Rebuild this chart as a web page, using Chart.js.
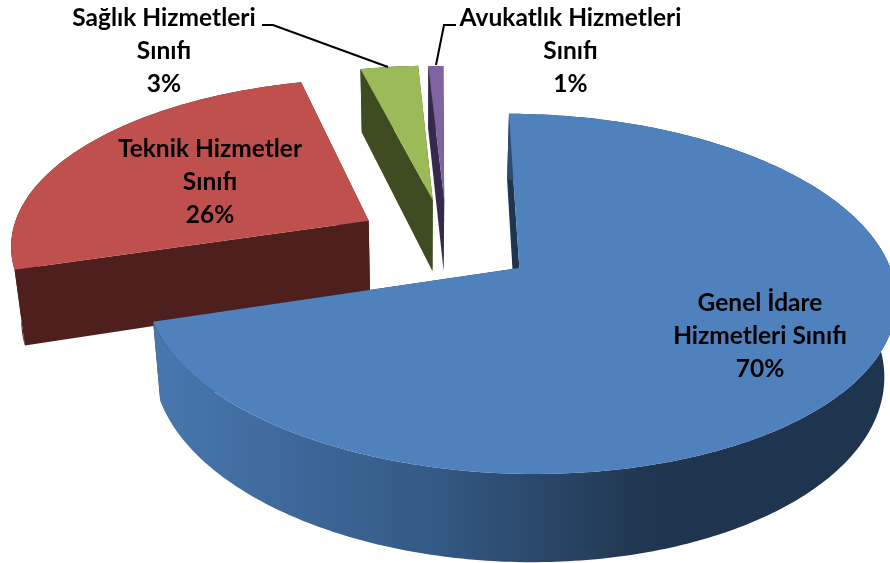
<!DOCTYPE html>
<html><head><meta charset="utf-8">
<style>html,body{margin:0;padding:0;background:#fff;overflow:hidden}canvas{display:block}</style>
<script src="https://cdn.jsdelivr.net/npm/chart.js@4/dist/chart.umd.min.js"></script>
</head><body>
<canvas id="c" width="890" height="563"></canvas>
<script>
// ---- data ----
const categories = ['Genel İdare Hizmetleri Sınıfı','Teknik Hizmetler Sınıfı','Sağlık Hizmetleri Sınıfı','Avukatlık Hizmetleri Sınıfı'];
const values = [70.2, 25.9, 3.1, 0.8];
const percentLabels = ['70%','26%','3%','1%'];
const labelLines = [['Genel İdare','Hizmetleri Sınıfı'],['Teknik Hizmetler','Sınıfı'],['Sağlık Hizmetleri','Sınıfı'],['Avukatlık Hizmetleri','Sınıfı']];

// ---- style ----
const topColors = ['#4f81bd','#c0504d','#9bbb59','#8064a2'];
const cutColors = ['#1f344f','#4f1f1e','#3f4c22','#352a4b'];
const explode = [78, 42.4, 53, 52];          // px, Chart.js arc offset
const nudgeU = [0, -0.002, 0.057, 0.063];    // sideways fine-tuning of the exploded slices
const rimScale = [1, 0.99, 0.965, 0.965];
const labelCenters = [[760,303],[210,149],[164,18],[570.5,18]];
const linePitch = 33;
const leaders = [null,null,[[262,25],[273,25],[388,67]],[[456,25],[444,25],[436,65]]];

// ---- projection of the pie plane ----
const CX=423.6, CY=235, RX=361, RY=167, DEPTH=73.5, PK=0.14, PZ=0.025;
function proj(u,v,z){
  const s0=1/(1-PK*v), s=1/(1-PK*v+PZ*z);
  return [CX+RX*u*s, CY+RY*v*s0+DEPTH*z*s0];
}

const pie3d = {
  id:'pie3d',
  beforeDatasetsDraw(chart){
    const ctx=chart.ctx, arcs=chart.getDatasetMeta(0).data;
    const order=[1,2,3,0];
    order.forEach(i=>{
      const a=arcs[i], R=a.outerRadius, e=a.options.offset/R, mid=(a.startAngle+a.endAngle)/2;
      const u0=e*Math.cos(mid)+nudgeU[i], v0=e*Math.sin(mid), rs=rimScale[i];
      const rim=[], N=Math.max(4,Math.ceil((a.endAngle-a.startAngle)/0.015));
      for(let k=0;k<=N;k++){const t=a.startAngle+(a.endAngle-a.startAngle)*k/N;rim.push([u0+rs*Math.cos(t),v0+rs*Math.sin(t)]);}
      const poly=(pts,fill)=>{ctx.beginPath();pts.forEach((p,j)=>j?ctx.lineTo(p[0],p[1]):ctx.moveTo(p[0],p[1]));ctx.closePath();ctx.fillStyle=fill;ctx.fill();};
      const first=rim[0], last=rim[rim.length-1];
      // cut faces
      poly([proj(u0,v0,0),proj(first[0],first[1],0),proj(first[0],first[1],1),proj(u0,v0,1)],cutColors[i]);
      poly([proj(u0,v0,0),proj(last[0],last[1],0),proj(last[0],last[1],1),proj(u0,v0,1)],cutColors[i]);
      // outer wall
      let wall=cutColors[i];
      if(i===0){
        wall=ctx.createLinearGradient(155,0,700,0);
        wall.addColorStop(0,'#4877ae');wall.addColorStop(0.5,'#345a86');wall.addColorStop(0.9,'#213650');wall.addColorStop(1,'#1f344f');
      }
      poly(rim.map(p=>proj(p[0],p[1],0)).concat(rim.slice().reverse().map(p=>proj(p[0],p[1],1))),wall);
      // top face
      poly([proj(u0,v0,0)].concat(rim.map(p=>proj(p[0],p[1],0))),topColors[i]);
    });
    // leader lines
    ctx.strokeStyle='#000';ctx.lineWidth=2;
    leaders.forEach(l=>{if(!l)return;ctx.beginPath();l.forEach((p,j)=>j?ctx.lineTo(p[0],p[1]):ctx.moveTo(p[0],p[1]));ctx.stroke();});
    // labels
    ctx.fillStyle='#000';ctx.textAlign='center';ctx.textBaseline='middle';ctx.font='bold 24.5px Lato';
    categories.forEach((c,i)=>{
      const lines=labelLines[i].concat(percentLabels[i]);
      lines.forEach((t,j)=>ctx.fillText(t,labelCenters[i][0],labelCenters[i][1]+j*linePitch));
    });
    return false;
  }
};

new Chart(document.getElementById('c'),{
  type:'pie',
  data:{labels:categories,datasets:[{data:values,backgroundColor:topColors,offset:explode,borderWidth:0}]},
  options:{responsive:false,animation:false,rotation:0.3,
    layout:{padding:0},
    plugins:{legend:{display:false},tooltip:{enabled:false}}},
  plugins:[pie3d]
});
</script>
</body></html>
